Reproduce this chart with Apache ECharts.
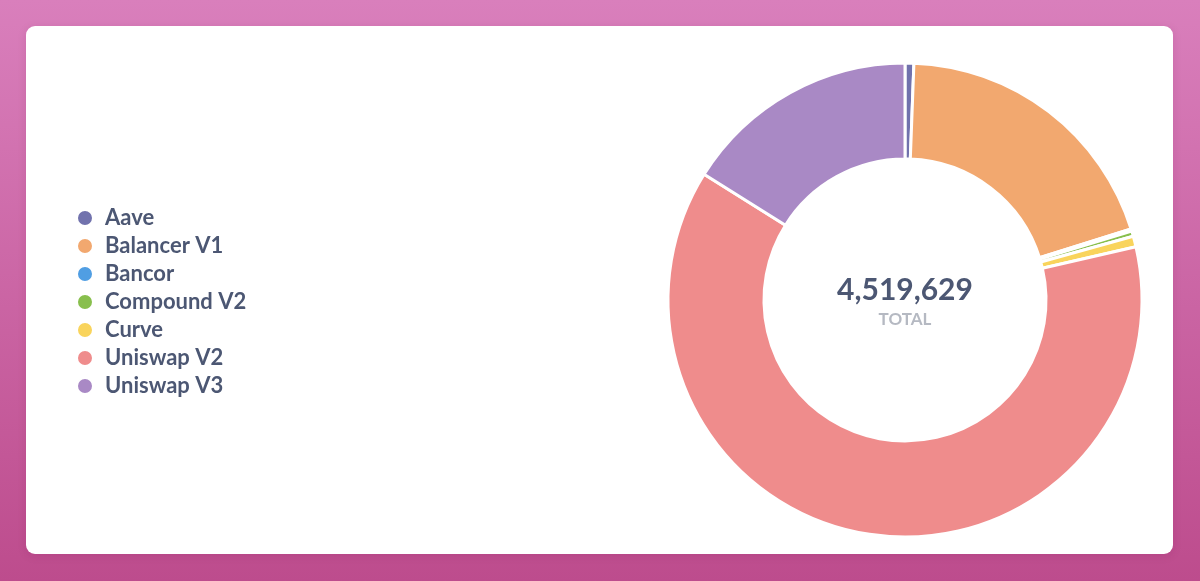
<!DOCTYPE html>
<html>
<head>
<meta charset="utf-8">
<script src="https://cdn.jsdelivr.net/npm/echarts@6/dist/echarts.min.js"></script>
<style>
  html, body {
    margin: 0;
    padding: 0;
    width: 1200px;
    height: 581px;
    overflow: hidden;
  }
  body {
    background: linear-gradient(to bottom, #d97fbc, #bd4c8d);
  }
  .card {
    position: absolute;
    left: 26px;
    top: 26px;
    width: 1147px;
    height: 528px;
    background: #fff;
    border-radius: 9px;
    box-shadow: 0 2px 8px rgba(120, 20, 80, 0.15);
  }
  #chart {
    position: absolute;
    left: 0;
    top: 0;
    width: 1200px;
    height: 581px;
  }
</style>
</head>
<body>
<div class="card"></div>
<div id="chart"></div>
<script>
const protocols = ['Aave', 'Balancer V1', 'Bancor', 'Compound V2', 'Curve', 'Uniswap V2', 'Uniswap V3']
const values = [27100, 884000, 6800, 16000, 33000, 2825029, 727700]
const colors = ['#7172AD', '#F2A86F', '#509EE3', '#88BF4D', '#F9D45C', '#EF8C8C', '#A989C5']

const total = values.reduce((a, b) => a + b, 0)

const myChart = echarts.init(document.getElementById('chart'))

myChart.setOption({
  animation: false,
  color: colors,
  legend: {
    orient: 'vertical',
    left: 71,
    top: 201,
    itemWidth: 30,
    itemHeight: 16,
    itemGap: 4,
    icon: 'circle',
    textStyle: {
      fontFamily: 'Lato',
      fontSize: 22,
      fontWeight: 'bold',
      color: '#4C5773',
      lineHeight: 24
    },
    data: protocols
  },
  graphic: [
    {
      type: 'text',
      x: 905,
      y: 290,
      style: {
        text: total.toLocaleString('en-US'),
        fontFamily: 'Lato',
        fontSize: 30,
        fontWeight: 'bold',
        fill: '#4C5773',
        textAlign: 'center',
        textVerticalAlign: 'middle'
      }
    },
    {
      type: 'text',
      x: 905,
      y: 320,
      style: {
        text: 'TOTAL',
        fontFamily: 'Lato',
        fontSize: 17,
        fontWeight: 'bold',
        fill: '#B5B9C2',
        textAlign: 'center',
        textVerticalAlign: 'middle'
      }
    }
  ],
  series: [
    {
      type: 'pie',
      center: [905, 300],
      radius: [141, 237],
      startAngle: 90,
      clockwise: true,
      label: { show: false },
      labelLine: { show: false },
      itemStyle: {
        borderColor: '#fff',
        borderWidth: 3
      },
      emphasis: { disabled: true },
      data: protocols.map((name, i) => ({ name: name, value: values[i] }))
    }
  ]
})
</script>
</body>
</html>
